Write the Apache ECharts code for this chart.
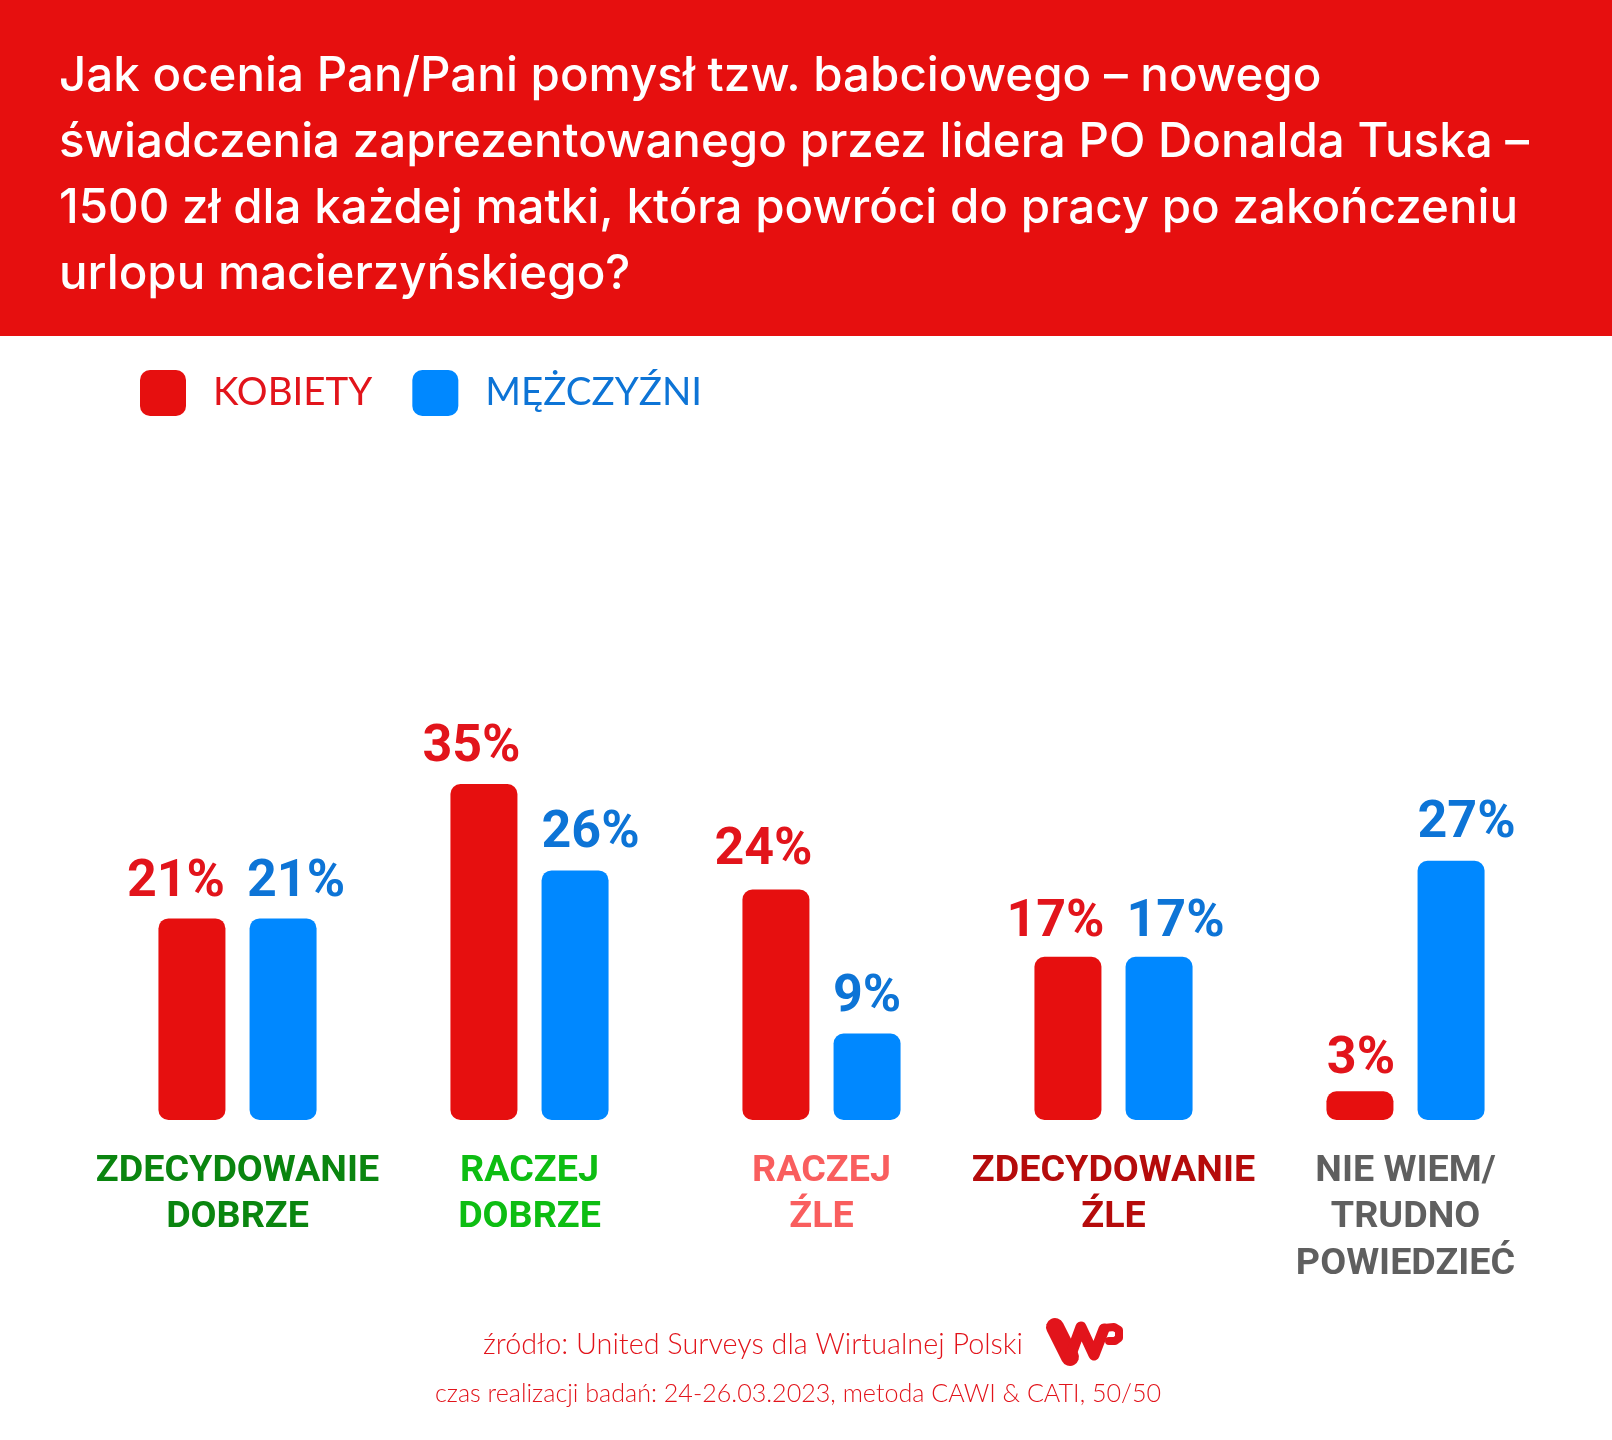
<!DOCTYPE html>
<html><head><meta charset="utf-8">
<style>html,body{margin:0;padding:0;background:#fff}#c{width:1612px;height:1440px}</style>
<script src="https://cdn.jsdelivr.net/npm/echarts@6/dist/echarts.min.js"></script>
</head><body><div id="c"></div>
<script>
const categories = ['ZDECYDOWANIE\nDOBRZE','RACZEJ\nDOBRZE','RACZEJ\nŹLE','ZDECYDOWANIE\nŹLE','NIE WIEM/\nTRUDNO\nPOWIEDZIEĆ'];
const categoryColors = ['#0a850f','#0dbd12','#f95e5e','#b50b0b','#5f5f5f'];
const kobiety = [21,35,24,17,3];
const mezczyzni = [21,26,9,17,27];
const kobietyLabelOffsets = [[-16,2],[-12.5,1],[-12.5,-2],[-12.5,3],[1,6]];
const mezczyzniLabelOffsets = [[13,2],[15.5,1],[0,1],[16.5,3],[15.5,0]];
const titleText = 'Jak ocenia Pan/Pani pomysł tzw. babciowego – nowego\nświadczenia zaprezentowanego przez lidera PO Donalda Tuska –\n1500 zł dla każdej matki, która powróci do pracy po zakończeniu\nurlopu macierzyńskiego?';
const source1 = 'źródło: United Surveys dla Wirtualnej Polski';
const source2 = 'czas realizacji badań: 24-26.03.2023, metoda CAWI & CATI, 50/50';
const roundIcon = 'path://M10,0H36A10,10,0,0,1,46,10V36A10,10,0,0,1,36,46H10A10,10,0,0,1,0,36V10A10,10,0,0,1,10,0Z';
const chart = echarts.init(document.getElementById('c'), null, {renderer:'canvas'});
const barLabel = c => ({show:true, position:'top', distance:11, formatter:'{c}%', color:c,
  fontFamily:'Roboto', fontWeight:'bold', fontSize:52});
const withOffsets = (values, offsets) => values.map((value, i) => ({value, label:{offset:offsets[i]}}));
const logoStyle = w => ({fill:'none', stroke:'#e2141b', lineWidth:w, lineCap:'round', lineJoin:'round'});
chart.setOption({
  animation:false,
  backgroundColor:'#fff',
  graphic:[
    {type:'rect', z:-1, shape:{x:0,y:0,width:1612,height:336}, style:{fill:'#e60f0f'}},
    {type:'line', z:5, shape:{x1:1055,y1:1327,x2:1070,y2:1357}, style:logoStyle(18)},
    {type:'polyline', z:5, shape:{points:[[1070,1357],[1081,1327],[1094,1355],[1104,1329]]}, style:logoStyle(11)},
    {type:'polyline', z:5, shape:{points:[[1104,1328],[1114,1327],[1119,1330],[1119,1338],[1115,1341],[1109,1341]]}, style:logoStyle(8)}
  ],
  title:[
    {text:titleText, left:54, top:39, textStyle:{color:'#fff', fontFamily:'Inter', fontWeight:500, fontSize:47.5, lineHeight:66}},
    {text:source1, left:478, top:1324, textStyle:{color:'#e2141b', fontFamily:'Lato', fontWeight:300, fontSize:28.8, lineHeight:32}},
    {text:source2, left:430, top:1373, textStyle:{color:'#e2141b', fontFamily:'Lato', fontWeight:300, fontSize:25.1, lineHeight:32}}
  ],
  legend:{left:135, top:365, itemWidth:46, itemHeight:46, itemGap:40, icon:roundIcon, selectedMode:false,
    textStyle:{fontFamily:'Lato', fontSize:38.5, padding:[8,0,0,22]},
    data:[{name:'KOBIETY', textStyle:{color:'#e2141b'}},{name:'MĘŻCZYŹNI', textStyle:{color:'#0d74d6'}}]},
  grid:{left:91.5, right:60.5, top:736, bottom:320},
  xAxis:{type:'category', data:categories, axisLine:{show:false}, axisTick:{show:false}, splitLine:{show:false},
    axisLabel:{interval:0, margin:28, fontFamily:'Roboto', fontWeight:'bold', fontSize:37.7, lineHeight:46.5,
      color:(v,i)=>categoryColors[i]}},
  yAxis:{type:'value', min:0, max:40, show:false, splitLine:{show:false}},
  series:[
    {name:'KOBIETY', type:'bar', data:withOffsets(kobiety, kobietyLabelOffsets), barWidth:67, barGap:'36%', itemStyle:{color:'#e60f0f', borderRadius:10}, label:barLabel('#e2141b')},
    {name:'MĘŻCZYŹNI', type:'bar', data:withOffsets(mezczyzni, mezczyzniLabelOffsets), barWidth:67, itemStyle:{color:'#0088ff', borderRadius:10}, label:barLabel('#0d74d6')}
  ]
});
</script></body></html>
